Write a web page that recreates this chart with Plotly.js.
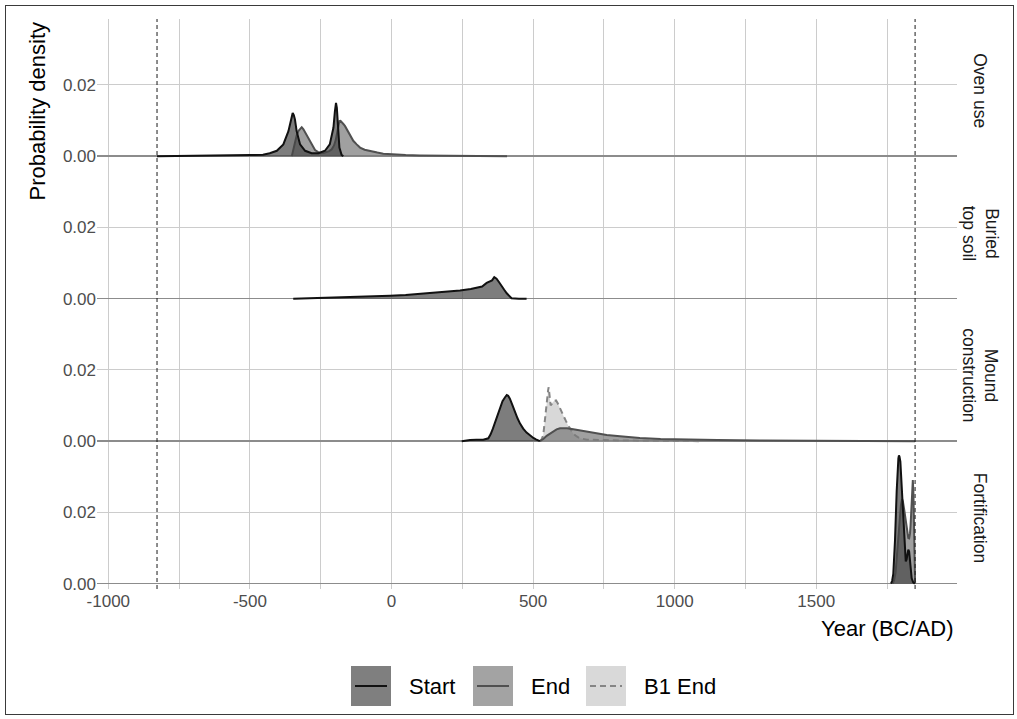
<!DOCTYPE html>
<html>
<head>
<meta charset="utf-8">
<script src="https://cdn.plot.ly/plotly-3.0.1.min.js"></script>
<style>
  html, body { margin: 0; padding: 0; background: #ffffff; }
  #wrap { position: relative; width: 1017px; height: 719px; }
  #chart { position: absolute; left: 0; top: 0; width: 1017px; height: 719px; }
  #frame { position: absolute; left: 5px; top: 5px; width: 1009px; height: 710px; border: 1px solid #3a3a3a; pointer-events: none; box-sizing: border-box; }
</style>
</head>
<body>
<div id="wrap"><div id="chart"></div><div id="frame"></div></div>
<script>
// ---------------- data ----------------
const panelNames = ["Oven use", "Buried<br>top soil", "Mound<br>construction", "Fortification"];
const seriesNames = ["Start", "End", "B1 End"];
const boundaryYears = [-828, 1849];
const xTickVals = [-1000, -500, 0, 500, 1000, 1500];
const xMinorVals = [-750, -250, 250, 750, 1250, 1750];
const yTickVals = [0, 0.02];
const yTickText = ["0.00", "0.02"];

// Oven use
const ovenStartYear = [-828, -700, -600, -500, -454, -430, -405, -382, -364, -352, -349, -345, -341, -335, -323, -305, -282, -258, -235, -218, -205, -200, -196, -193, -190, -184, -176, -170];
const ovenStartDens = [0, 0.00005, 0.0001, 0.0003, 0.0004, 0.0008, 0.0015, 0.0033, 0.007, 0.0112, 0.0121, 0.0115, 0.0103, 0.007, 0.0033, 0.0015, 0.0008, 0.0008, 0.0015, 0.0033, 0.008, 0.0125, 0.0149, 0.0135, 0.0098, 0.0024, 0.0003, 0];
const ovenEndYear = [-352, -347, -341, -335, -329, -323, -317, -311, -305, -299, -294, -288, -282, -276, -270, -260, -252, -240, -229, -220, -211, -203, -197, -193, -188, -184, -180, -176, -170, -164, -158, -153, -145, -135, -123, -111, -95, -76, -50, -29, 0, 50, 100, 200, 300, 408];
const ovenEndDens = [0, 0.002, 0.0043, 0.0058, 0.007, 0.0076, 0.0081, 0.0075, 0.0066, 0.006, 0.0052, 0.0043, 0.0033, 0.0025, 0.0017, 0.0012, 0.0009, 0.0009, 0.0011, 0.0014, 0.0019, 0.003, 0.0045, 0.0065, 0.0085, 0.0098, 0.0099, 0.0096, 0.009, 0.0084, 0.0075, 0.0066, 0.0055, 0.0043, 0.0033, 0.0024, 0.0018, 0.0014, 0.001, 0.0007, 0.0005, 0.0003, 0.0002, 0.0001, 0.00005, 0];

// Buried top soil
const soilStartYear = [-347, -300, -217, -100, -5, 50, 136, 200, 242, 280, 301, 320, 336, 348, 355, 363, 371, 380, 389, 398, 407, 416, 424, 450, 477];
const soilStartDens = [0, 0.0001, 0.0002, 0.0005, 0.0008, 0.001, 0.0015, 0.0019, 0.0023, 0.0027, 0.003, 0.0034, 0.0044, 0.0048, 0.0051, 0.006, 0.0056, 0.0046, 0.0034, 0.0025, 0.0015, 0.0007, 0.0001, 0, 0];

// Mound construction
const moundStartYear = [248, 260, 277, 300, 324, 342, 346, 350, 358, 366, 375, 383, 392, 401, 407, 412, 418, 427, 436, 445, 454, 465, 477, 489, 501, 510, 518, 524];
const moundStartDens = [0, 0.0002, 0.0003, 0.0004, 0.0004, 0.0008, 0.0013, 0.0019, 0.0035, 0.0054, 0.0075, 0.0095, 0.0112, 0.0123, 0.0129, 0.0127, 0.0119, 0.0101, 0.0081, 0.0064, 0.0049, 0.0035, 0.0024, 0.0016, 0.0009, 0.0005, 0.0002, 0];
const moundEndYear = [524, 536, 548, 560, 572, 583, 595, 607, 620, 642, 665, 689, 720, 760, 807, 877, 950, 1050, 1150, 1300, 1450, 1600, 1750, 1849];
const moundEndDens = [0, 0.0006, 0.0015, 0.0021, 0.0028, 0.0033, 0.0036, 0.0037, 0.0036, 0.0033, 0.003, 0.0026, 0.0021, 0.0017, 0.0014, 0.0009, 0.0006, 0.0004, 0.0003, 0.0002, 0.00015, 0.0001, 0.0001, 0];
const moundB1Year = [524, 530, 536, 541, 545, 548, 551, 553, 555, 557, 560, 562, 566, 569, 575, 581, 587, 593, 600, 607, 615, 624, 633, 642, 654, 666, 690, 720, 800, 900, 1000, 1089];
const moundB1Dens = [0, 0.0005, 0.0017, 0.006, 0.0091, 0.011, 0.0128, 0.0142, 0.0151, 0.0135, 0.0108, 0.01, 0.0104, 0.0109, 0.0113, 0.0114, 0.0106, 0.0095, 0.0083, 0.0072, 0.0058, 0.0044, 0.0032, 0.0021, 0.0013, 0.0008, 0.0004, 0.0003, 0.0002, 0.0001, 0.00005, 0];

// Fortification
const fortStartYear = [1764, 1768, 1772, 1778, 1784, 1788, 1790, 1792, 1794, 1797, 1801, 1804, 1807, 1810, 1813, 1816, 1819, 1822, 1825, 1828, 1832, 1837, 1842, 1848];
const fortStartDens = [0, 0.0008, 0.0027, 0.012, 0.0259, 0.0335, 0.0351, 0.0359, 0.0355, 0.0342, 0.0277, 0.023, 0.0184, 0.013, 0.009, 0.0062, 0.0068, 0.0088, 0.0095, 0.009, 0.006, 0.0015, 0.0004, 0];
const fortEndYear = [1770, 1775, 1780, 1785, 1790, 1795, 1799, 1803, 1806, 1810, 1814, 1818, 1822, 1825, 1828, 1831, 1833, 1835, 1837, 1839, 1841, 1843, 1845, 1847, 1849];
const fortEndDens = [0, 0.001, 0.003, 0.008, 0.014, 0.019, 0.022, 0.0237, 0.023, 0.021, 0.0185, 0.016, 0.0138, 0.0128, 0.0127, 0.014, 0.0162, 0.0198, 0.0245, 0.0285, 0.029, 0.0255, 0.018, 0.008, 0];

// ---------------- styling ----------------
const FONT = "'Liberation Sans', Arial, Helvetica, sans-serif";
const style = {
  "Start":  { fill: "rgba(70,70,70,0.7)",   line: "#111111", dash: "solid",     key: "#7f7f7f" },
  "End":    { fill: "rgba(120,120,120,0.7)", line: "#505050", dash: "solid",     key: "#a3a3a3" },
  "B1 End": { fill: "rgba(200,200,200,0.7)", line: "#858585", dash: "6px,4px",   key: "#d9d9d9" }
};

function trace(name, xs, ys, yaxis) {
  const s = style[name];
  return {
    type: "scatter", mode: "lines", x: xs, y: ys, xaxis: "x", yaxis: yaxis,
    fill: "tozeroy", fillcolor: s.fill,
    line: { color: s.line, width: 2, dash: s.dash },
    name: name, showlegend: false, hoverinfo: "skip"
  };
}

const traces = [
  trace("End", ovenEndYear, ovenEndDens, "y"),
  trace("Start", ovenStartYear, ovenStartDens, "y"),
  trace("Start", soilStartYear, soilStartDens, "y2"),
  trace("B1 End", moundB1Year, moundB1Dens, "y3"),
  trace("End", moundEndYear, moundEndDens, "y3"),
  trace("Start", moundStartYear, moundStartDens, "y3"),
  trace("End", fortEndYear, fortEndDens, "y4"),
  trace("Start", fortStartYear, fortStartDens, "y4")
];

// plot area in pixels
const L = 97, R = 957, T = 19, B = 589, W = 1017, H = 719;
const px = v => (v - L) / (R - L);
const py = v => (B - v) / (B - T);

function yAxis(domain) {
  return {
    domain: domain, anchor: "x", range: [-0.0015, 0.0384],
    tickmode: "array", tickvals: yTickVals, ticktext: yTickText,
    showgrid: true, gridcolor: "#cccccc", gridwidth: 1,
    zeroline: true, zerolinecolor: "#8c8c8c", zerolinewidth: 1.6,
    showline: false, ticks: "", ticklen: 0,
    tickfont: { family: FONT, size: 17, color: "#4d4d4d" }
  };
}

const shapes = [];
boundaryYears.forEach(b => shapes.push({
  type: "line", xref: "x", yref: "paper", x0: b, x1: b, y0: 0, y1: 1,
  line: { color: "#1a1a1a", width: 1, dash: "4px,3px" }, layer: "above"
}));

const annotations = [];
// strip labels
panelNames.forEach((p, i) => {
  annotations.push({
    text: p, xref: "paper", yref: "paper", x: px(980), y: 1 - (i + 0.5) / 4,
    xanchor: "center", yanchor: "middle", showarrow: false, textangle: 90,
    font: { family: FONT, size: 17.5, color: "#1a1a1a" }
  });
});
// axis titles
annotations.push({
  text: "Probability density", xref: "paper", yref: "paper", x: px(37), y: py(111.5),
  xanchor: "center", yanchor: "middle", showarrow: false, textangle: -90,
  font: { family: FONT, size: 22, color: "#000000" }
});
annotations.push({
  text: "Year (BC/AD)", xref: "paper", yref: "paper", x: px(955), y: py(628),
  xanchor: "right", yanchor: "middle", showarrow: false,
  font: { family: FONT, size: 22, color: "#000000" }
});

// custom legend (ggplot-like keys)
const keyLeft = [351, 473, 586];
const keyTop = 666, keySize = 40;
seriesNames.forEach((n, i) => {
  const s = style[n];
  const x0 = keyLeft[i];
  shapes.push({
    type: "rect", xref: "paper", yref: "paper",
    x0: px(x0), x1: px(x0 + keySize), y0: py(keyTop + keySize), y1: py(keyTop),
    fillcolor: s.key, line: { width: 0 }
  });
  shapes.push({
    type: "line", xref: "paper", yref: "paper",
    x0: px(x0 + 4), x1: px(x0 + keySize - 4), y0: py(keyTop + keySize / 2), y1: py(keyTop + keySize / 2),
    line: { color: s.line, width: 2, dash: s.dash }
  });
  annotations.push({
    text: n, xref: "paper", yref: "paper", x: px(x0 + keySize + 16), y: py(keyTop + keySize / 2),
    xanchor: "left", yanchor: "middle", showarrow: false,
    font: { family: FONT, size: 22, color: "#000000" }
  });
});

const layout = {
  width: W, height: H,
  margin: { l: L, r: W - R, t: T, b: H - B, pad: 0 },
  paper_bgcolor: "#ffffff", plot_bgcolor: "#ffffff",
  showlegend: false,
  xaxis: {
    anchor: "y4", range: [-1040, 1997],
    tickmode: "array", tickvals: xTickVals, ticktext: xTickVals.map(String),
    showgrid: true, gridcolor: "#cccccc", gridwidth: 1,
    minor: { tickmode: "array", tickvals: xMinorVals, showgrid: true, gridcolor: "#cccccc", gridwidth: 1, ticks: "" },
    zeroline: false, showline: false, ticks: "",
    tickfont: { family: FONT, size: 17, color: "#4d4d4d" }
  },
  yaxis: yAxis([0.75, 1]),
  yaxis2: yAxis([0.5, 0.75]),
  yaxis3: yAxis([0.25, 0.5]),
  yaxis4: yAxis([0, 0.25]),
  shapes: shapes,
  annotations: annotations
};

Plotly.newPlot("chart", traces, layout, { staticPlot: true, displayModeBar: false });
</script>
</body>
</html>
